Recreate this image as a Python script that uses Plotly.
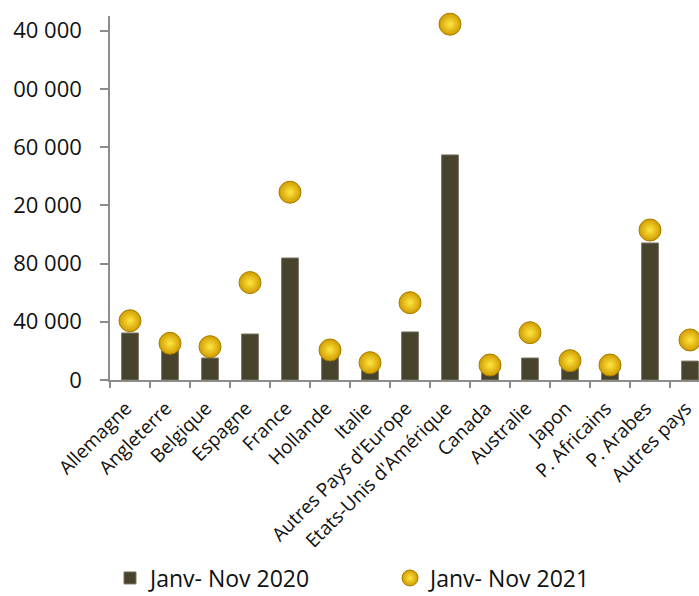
import plotly.graph_objects as go

categories = ["Allemagne", "Angleterre", "Belgique", "Espagne", "France", "Hollande", "Italie",
              "Autres Pays d'Europe", "Etats-Unis d'Amérique", "Canada", "Australie", "Japon",
              "P. Africains", "P. Arabes", "Autres pays"]
values_2020 = [32300, 21000, 15100, 31600, 83800, 17000, 8000, 33000, 154600, 7000, 15100,
               9000, 6000, 94100, 13000]
values_2021 = [40700, 25200, 22900, 66900, 129000, 20600, 11900, 53100, 244400, 10300, 32500,
               13300, 10300, 103000, 27500]
y_tick_values = [0, 40000, 80000, 120000, 160000, 200000, 240000]
y_tick_labels = ["0", "40 000", "80 000", "20 000", "60 000", "00 000", "40 000"]

FONT = "Open Sans"
W, H = 699, 596
L, R, T, B = 110, 0, 16, 216
plot_w = W - L - R
plot_h = H - T - B
x_max = -0.5 + 15 * plot_w / 600.0

fig = go.Figure()
fig.add_trace(go.Bar(
    x=categories, y=values_2020, name="Janv- Nov 2020",
    width=0.42,
    marker=dict(color="#48432c", line=dict(color="#7a7560", width=1)),
))
fig.add_trace(go.Scatter(
    x=categories, y=values_2021, name="Janv- Nov 2021", mode="markers",
    marker=dict(size=22, color="#d09c00",
                gradient=dict(type="radial", color="#ffe640"),
                line=dict(color="#a87c00", width=1)),
    cliponaxis=False,
))

fig.update_layout(
    width=W, height=H,
    margin=dict(l=L, r=R, t=T, b=B, autoexpand=False),
    paper_bgcolor="white", plot_bgcolor="white",
    font=dict(family=FONT, color="#111111"),
    showlegend=True,
    legend=dict(orientation="h", x=0.0, xanchor="left", y=-(578 - (H - B)) / plot_h,
                yanchor="middle",
                font=dict(size=23, family=FONT, color="#111111"),
                entrywidth=235, entrywidthmode="pixels", itemwidth=30,
                bgcolor="rgba(0,0,0,0)"),
)
fig.update_xaxes(
    type="category", range=[-0.5, x_max],
    showline=True, linecolor="#8c8c8c", linewidth=1.5,
    ticks="outside", ticklen=6, tickcolor="#8c8c8c", tickwidth=1.5,
    tickson="boundaries", tickangle=-45, ticklabelstandoff=8, ticklabelshift=-4,
    tickfont=dict(size=19, family=FONT, color="#111111"),
    showgrid=False, automargin=False,
)
fig.update_yaxes(
    range=[0, 250000],
    tickmode="array", tickvals=y_tick_values, ticktext=y_tick_labels,
    showline=True, linecolor="#8c8c8c", linewidth=1.5,
    ticks="outside", ticklen=8, tickcolor="#8c8c8c", tickwidth=1.5,
    ticklabelstandoff=14,
    tickfont=dict(size=22, family=FONT, color="#111111"),
    showgrid=False, zeroline=False, automargin=False,
)

fig.write_html("out.html",
               config={"displayModeBar": False},
               post_script="document.body.style.margin='0';document.body.style.overflow='hidden';")
